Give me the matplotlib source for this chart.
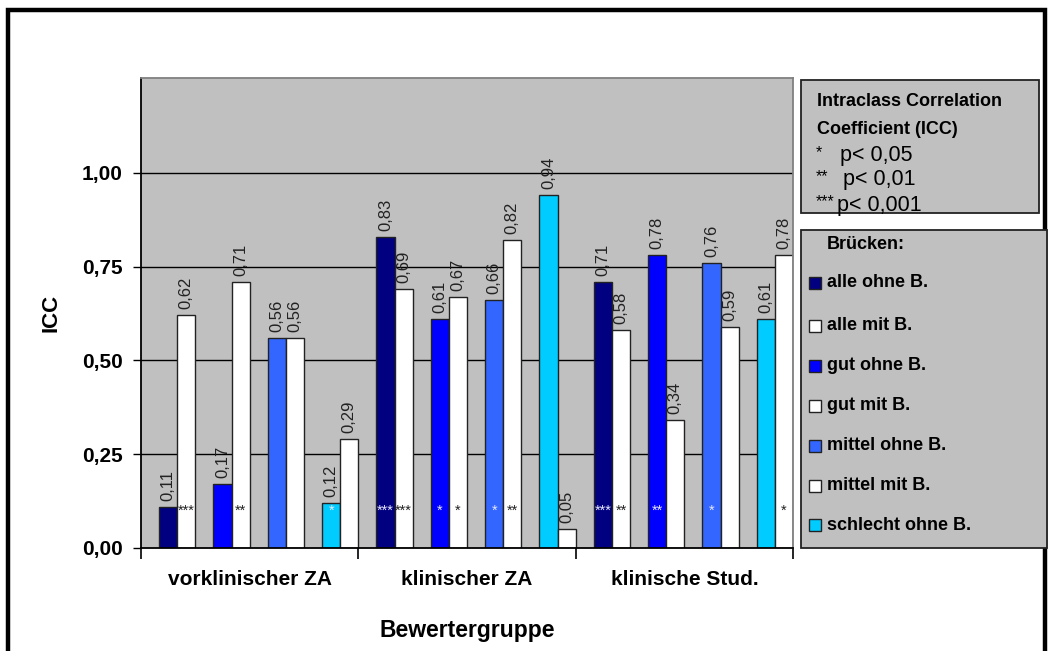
import matplotlib
matplotlib.use("Agg")
import matplotlib.pyplot as plt
from matplotlib.patches import Rectangle
import numpy as np

plt.rcParams['font.family'] = ['Liberation Sans', 'DejaVu Sans']

groups = ["vorklinischer ZA", "klinischer ZA", "klinische Stud."]
series = ["alle ohne B.", "alle mit B.", "gut ohne B.", "gut mit B.",
          "mittel ohne B.", "mittel mit B.", "schlecht ohne B.", "schlecht mit B."]
colors = ["#000080", "#FFFFFF", "#0000FF", "#FFFFFF",
          "#3366FF", "#FFFFFF", "#00CCFF", "#FFFFFF"]
values = [
    [0.11, 0.83, 0.71],
    [0.62, 0.69, 0.58],
    [0.17, 0.61, 0.78],
    [0.71, 0.67, 0.34],
    [0.56, 0.66, 0.76],
    [0.56, 0.82, 0.59],
    [0.12, 0.94, 0.61],
    [0.29, 0.05, 0.78],
]
stars = [
    ["", "***", "***"],
    ["***", "***", "**"],
    ["", "*", "**"],
    ["**", "*", ""],
    ["", "*", "*"],
    ["", "**", ""],
    ["*", "", ""],
    ["", "", "*"],
]
yticks = [0.00, 0.25, 0.50, 0.75, 1.00]
ytick_labels = ["0,00", "0,25", "0,50", "0,75", "1,00"]

W, H = 1051, 651
fig = plt.figure(figsize=(W / 100, H / 100), dpi=100)
fig.patch.set_facecolor("white")

# outer frame
fig.add_artist(Rectangle((8 / W, -0.05), (1045 - 8) / W, 1.05 - 10 / H,
                         transform=fig.transFigure, fill=False,
                         edgecolor="black", linewidth=3.2, zorder=0))

ax = fig.add_axes([141 / W, 1 - 548 / H, (793 - 141) / W, 470 / H])
ax.set_facecolor("#C0C0C0")
ax.set_xlim(0, 3)
ax.set_ylim(0, 1.2533)

# 12 slots per group: empty slot before each ohne/mit pair
slot_w = 1 / 12
slots = [1, 2, 4, 5, 7, 8, 10, 11]

for yv in yticks[1:]:
    ax.axhline(yv, color="#000000", linewidth=1.0, zorder=1)

for s in range(len(series)):
    x = np.arange(len(groups)) + (slots[s] + 0.5) * slot_w
    ax.bar(x, values[s], width=slot_w, color=colors[s], edgecolor="#222222",
           linewidth=1.0, zorder=2)
    dark = colors[s] != "#FFFFFF"
    for g in range(len(groups)):
        v = values[s][g]
        lbl = f"{v:.2f}".replace(".", ",")
        ax.annotate(lbl, (x[g], v), xytext=(0, 6), textcoords="offset pixels",
                    rotation=90, ha="center", va="bottom", fontsize=12,
                    color="#222222", zorder=3)
        if stars[s][g]:
            ax.text(x[g], 0.100, stars[s][g], ha="center", va="center",
                    fontsize=10.5, color="#E8E8FF" if dark else "#222222", zorder=3)

ax.set_yticks(yticks)
ax.set_yticklabels(ytick_labels, fontsize=15, fontweight="bold")
ax.tick_params(axis="y", direction="out", length=6, width=1, pad=7)
ax.set_xticks([0, 1, 2, 3])
ax.set_xticklabels([])
ax.tick_params(axis="x", which="major", direction="out", length=8, width=1.2)
ax.set_xticks([0.5, 1.5, 2.5], minor=True)
ax.set_xticklabels(groups, minor=True, fontsize=15, fontweight="bold")
ax.tick_params(axis="x", which="minor", length=0, pad=15.5)

for side in ["left", "bottom"]:
    ax.spines[side].set_color("black")
    ax.spines[side].set_linewidth(1.3)
for side in ["top", "right"]:
    ax.spines[side].set_color("#808080")
    ax.spines[side].set_linewidth(1.3)

ax.set_ylabel("ICC", fontsize=16, fontweight="bold", labelpad=15)
fig.text(467 / W, 1 - 630 / H, "Bewertergruppe", ha="center", va="center",
         fontsize=16.5, fontweight="bold")

# significance box
fig.add_artist(Rectangle((801 / W, 1 - 213 / H), (1039 - 801) / W, (213 - 80) / H,
                         transform=fig.transFigure, facecolor="#C0C0C0",
                         edgecolor="#222222", linewidth=1.3, zorder=2))
fig.text(817 / W, 1 - 102 / H, "Intraclass Correlation", fontsize=13,
         fontweight="bold", va="center", zorder=3)
fig.text(817 / W, 1 - 130 / H, "Coefficient (ICC)", fontsize=13,
         fontweight="bold", va="center", zorder=3)
sig_marks = ["*", "**", "***"]
sig_texts = ["p< 0,05", "p< 0,01", "p< 0,001"]
sig_y = [156, 180, 205]
sig_x = [840, 843, 837]
for st, txt, yy, xx in zip(sig_marks, sig_texts, sig_y, sig_x):
    fig.text(816 / W, 1 - (yy - 3) / H, st, fontsize=11.5, va="center", zorder=3)
    fig.text(xx / W, 1 - yy / H, txt, fontsize=15.5, va="center", zorder=3)

# series legend box
fig.add_artist(Rectangle((801 / W, 1 - 548 / H), (1047 - 801) / W, (548 - 230) / H,
                         transform=fig.transFigure, facecolor="#C0C0C0",
                         edgecolor="#222222", linewidth=1.3, zorder=2))
fig.text(827 / W, 1 - 244 / H, "Brücken:", fontsize=13, fontweight="bold",
         va="center", zorder=3)
leg_y = [283, 326, 366, 406, 446, 486, 525]
for i, yy in enumerate(leg_y):
    fig.add_artist(Rectangle((809 / W, 1 - (yy + 6) / H), 12 / W, 12 / H,
                             transform=fig.transFigure, facecolor=colors[i],
                             edgecolor="#222222", linewidth=1.0, zorder=3))
    fig.text(827 / W, 1 - yy / H, series[i], fontsize=13, fontweight="bold",
             va="center", zorder=3)

fig.savefig("out.png", dpi=100)
